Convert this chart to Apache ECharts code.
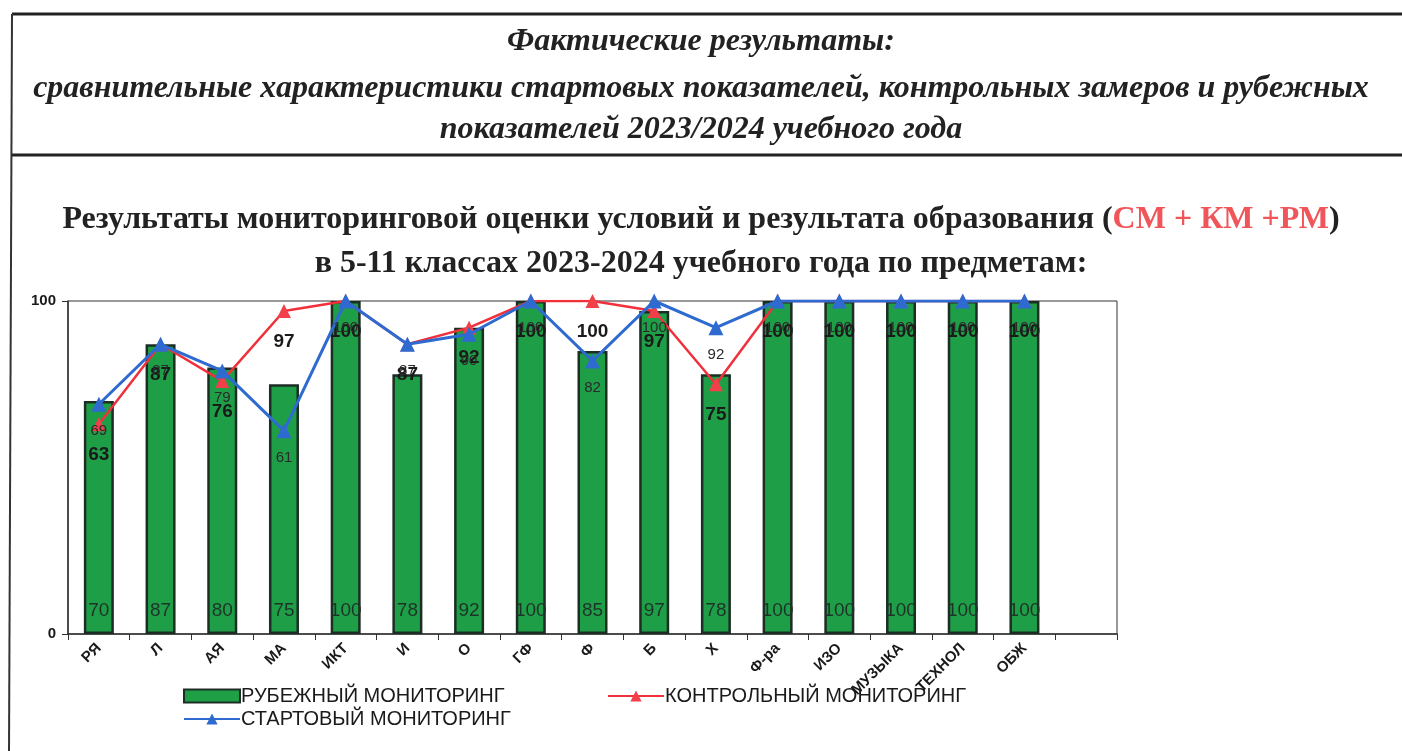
<!DOCTYPE html>
<html>
<head>
<meta charset="utf-8">
<script src="https://cdn.jsdelivr.net/npm/echarts@6/dist/echarts.min.js"></script>
<style>
  html, body { margin: 0; padding: 0; background: #fff; }
  #chart { width: 1402px; height: 751px; }
</style>
</head>
<body>
<div id="chart"></div>
<script>
// subjects (last slot is empty in the original)
const subjects = ['РЯ', 'Л', 'АЯ', 'МА', 'ИКТ', 'И', 'О', 'ГФ', 'Ф', 'Б', 'Х', 'Ф-ра', 'ИЗО', 'МУЗЫКА', 'ТЕХНОЛ', 'ОБЖ', ''];
const rubezh = [70, 87, 80, 75, 100, 78, 92, 100, 85, 97, 78, 100, 100, 100, 100, 100, null];   // РУБЕЖНЫЙ
const kontrol = [63, 87, 76, 97, 100, 87, 92, 100, 100, 97, 75, 100, 100, 100, 100, 100, null]; // КОНТРОЛЬНЫЙ
const start = [69, 87, 79, 61, 100, 87, 90, 100, 82, 100, 92, 100, 100, 100, 100, 100, null];   // СТАРТОВЫЙ
const yTicks = [0, 100];

const chart = echarts.init(document.getElementById('chart'));

const serifTitle = '"Liberation Serif", "DejaVu Serif", serif';
const sans = '"Liberation Sans", Arial';

const option = {
    animation: false,
    backgroundColor: '#fff',
    graphic: [
        // frame of the page
        { type: 'line', shape: { x1: 12, y1: 14, x2: 1402, y2: 14 }, style: { stroke: '#222', lineWidth: 3 } },
        { type: 'line', shape: { x1: 12, y1: 155, x2: 1402, y2: 155 }, style: { stroke: '#222', lineWidth: 3 } },
        { type: 'line', shape: { x1: 12, y1: 14, x2: 9, y2: 751 }, style: { stroke: '#333', lineWidth: 2 } },
        {
            type: 'text', left: 'center', top: 26,
            style: { text: 'Фактические результаты:', font: 'italic bold 32px ' + serifTitle, fill: '#222' }
        },
        {
            type: 'text', left: 'center', top: 73,
            style: { text: 'сравнительные характеристики стартовых показателей, контрольных замеров и рубежных', font: 'italic bold 32px ' + serifTitle, fill: '#222' }
        },
        {
            type: 'text', left: 'center', top: 114,
            style: { text: 'показателей 2023/2024 учебного года', font: 'italic bold 32px ' + serifTitle, fill: '#222' }
        },
        {
            type: 'text', left: 'center', top: 204,
            style: {
                text: '{a|Результаты мониторинговой оценки условий и результата образования (}{r|СМ + КМ +РМ}{a|)}',
                rich: {
                    a: { font: 'bold 32px ' + serifTitle, fill: '#222' },
                    r: { font: 'bold 32px ' + serifTitle, fill: '#f0555a' }
                }
            }
        },
        {
            type: 'text', left: 'center', top: 248,
            style: { text: 'в 5-11 классах 2023-2024 учебного года по предметам:', font: 'bold 32px ' + serifTitle, fill: '#222' }
        }
    ],
    legend: [
        {
            data: [{ name: 'РУБЕЖНЫЙ МОНИТОРИНГ', icon: 'rect' }], left: 178, top: 681, itemWidth: 56, itemHeight: 13,
            textStyle: { fontFamily: sans, fontSize: 20, color: '#1a1a1a', padding: [0, 0, 0, -4] }
        },
        {
            data: ['КОНТРОЛЬНЫЙ МОНИТОРИНГ'], left: 602, top: 681, itemWidth: 56, itemHeight: 14,
            textStyle: { fontFamily: sans, fontSize: 20, color: '#1a1a1a', padding: [0, 0, 0, -4] }
        },
        {
            data: ['СТАРТОВЫЙ МОНИТОРИНГ'], left: 178, top: 704, itemWidth: 56, itemHeight: 14,
            textStyle: { fontFamily: sans, fontSize: 20, color: '#1a1a1a', padding: [0, 0, 0, -4] }
        }
    ],
    grid: {
        left: 68, right: 285, top: 301, bottom: 117,
        show: true, borderColor: '#333', borderWidth: 1, backgroundColor: 'transparent'
    },
    xAxis: {
        type: 'category',
        data: subjects,
        boundaryGap: true,
        axisLine: { lineStyle: { color: '#333', width: 1.5 } },
        axisTick: { show: true, alignWithLabel: false, length: 6, lineStyle: { color: '#333' } },
        axisLabel: {
            interval: 0, rotate: 45, margin: 12,
            fontFamily: sans, fontWeight: 'bold', fontSize: 15, color: '#1a1a1a'
        },
        splitLine: { show: false }
    },
    yAxis: {
        type: 'value',
        min: yTicks[0], max: yTicks[1], interval: 100,
        axisLine: { show: true, lineStyle: { color: '#333', width: 1.5 } },
        axisTick: { show: true, length: 6, lineStyle: { color: '#333' } },
        axisLabel: { fontFamily: sans, fontWeight: 'bold', fontSize: 15, color: '#1a1a1a', margin: 12 },
        splitLine: { show: false }
    },
    series: [
        {
            name: 'РУБЕЖНЫЙ МОНИТОРИНГ',
            type: 'bar',
            data: rubezh,
            barWidth: 30,
            itemStyle: { color: '#1f9e48', borderColor: '#1c2e24', borderWidth: 2.5 },
            label: {
                show: true, position: 'insideBottom', distance: 14,
                fontFamily: sans, fontSize: 19, color: '#1d3327'
            },
            z: 1
        },
        {
            name: 'КОНТРОЛЬНЫЙ МОНИТОРИНГ',
            type: 'line',
            data: kontrol,
            symbol: 'triangle', symbolSize: 14,
            lineStyle: { color: '#f0303a', width: 2.5 },
            itemStyle: { color: '#f2404a' },
            label: {
                show: true, position: 'bottom', distance: 14,
                fontFamily: sans, fontWeight: 'bold', fontSize: 19, color: '#1a1a1a'
            },
            z: 3
        },
        {
            name: 'СТАРТОВЫЙ МОНИТОРИНГ',
            type: 'line',
            data: start,
            symbol: 'triangle', symbolSize: 15,
            lineStyle: { color: '#2f6ad0', width: 3 },
            itemStyle: { color: '#2f6ad0' },
            label: {
                show: true, position: 'bottom', distance: 12,
                fontFamily: sans, fontSize: 15, color: '#2a2a2a'
            },
            z: 4
        }
    ]
};

chart.setOption(option);
</script>
</body>
</html>
